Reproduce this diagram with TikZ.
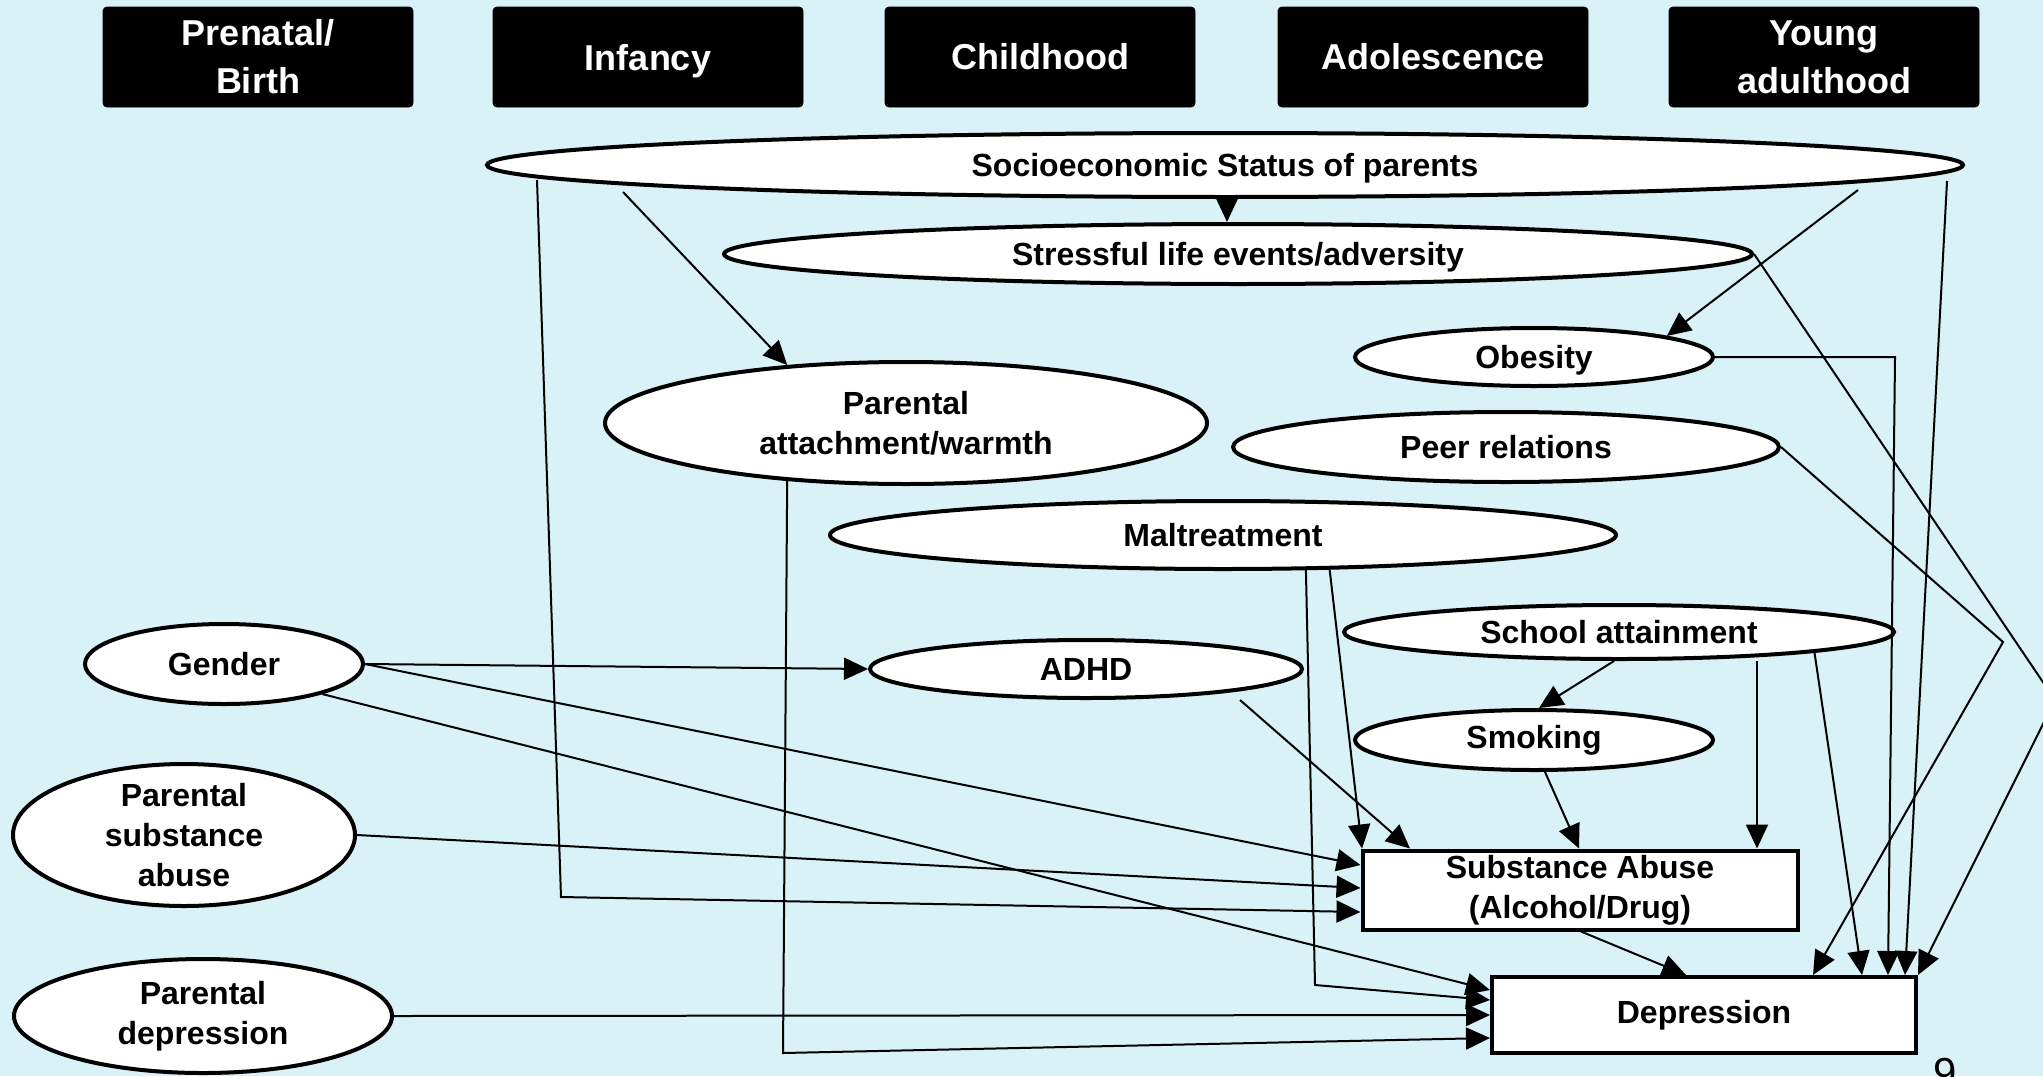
\documentclass[tikz,border=0pt]{standalone}
\usepackage{fontspec}
\setmainfont{Liberation Sans}
\usetikzlibrary{shapes.geometric,arrows.meta}
\definecolor{slidebg}{RGB}{217,242,247}
\newcommand{\bodytext}{\fontsize{16}{20}\selectfont\bfseries}
\newcommand{\headtext}{\fontsize{18}{24}\selectfont\bfseries}

\begin{document}
\begin{tikzpicture}[x=0.5pt,y=-0.5pt,
  stage/.style={fill=black, draw=black, text=white, rounded corners=2pt,
    minimum width=155pt, minimum height=50pt, inner sep=0pt, align=center, font=\headtext},
  oval/.style={ellipse, draw=black, line width=2pt, fill=white, inner sep=0pt,
    align=center, font=\bodytext},
  outcome/.style={rectangle, draw=black, line width=2pt, fill=white, inner sep=0pt,
    align=center, font=\bodytext},
  nodepth/.style={text depth=0pt},
  link/.style={line width=1pt, -{Triangle[length=12pt,width=11pt]}}
]
% slide background and frame
\fill[slidebg] (0,0) rectangle (2043,1076);
\useasboundingbox (0,0) rectangle (2043,1076);
\clip (0,0) rectangle (2043,1076);

% life stages
\node[stage] (h1) at (258,57)  {Prenatal/\\Birth};
\node[stage, nodepth] (h2) at (648,57)  {Infancy};
\node[stage] (h3) at (1040,57) {Childhood};
\node[stage] (h4) at (1433,57) {Adolescence};
\node[stage] (h5) at (1824,57) {Young\\adulthood};

% risk factors
\node[oval, nodepth, minimum width=738pt, minimum height=32pt] (ses)  at (1225,165) {Socioeconomic Status of parents};
\node[oval, nodepth, minimum width=514pt, minimum height=30pt] (sle)  at (1238,254) {Stressful life events/adversity};
\node[oval, nodepth, minimum width=179pt, minimum height=29pt] (obe)  at (1534,357) {Obesity};
\node[oval, minimum width=301pt, minimum height=61pt] (att)  at (906,423)  {Parental\\attachment/warmth};
\node[oval, minimum width=273pt, minimum height=35pt] (peer) at (1506,447) {Peer relations};
\node[oval, minimum width=393pt, minimum height=34pt] (malt) at (1223,535) {Maltreatment};
\node[oval, minimum width=139pt, minimum height=40pt] (gen)  at (224,664)  {Gender};
\node[oval, minimum width=216pt, minimum height=29pt] (adhd) at (1086,669) {ADHD};
\node[oval, minimum width=275pt, minimum height=27pt] (sch)  at (1619,632) {School attainment};
\node[oval, minimum width=179pt, minimum height=30pt] (smk)  at (1534,740) {Smoking};
\node[oval, minimum width=171pt, minimum height=71pt, inner ysep=-4pt] (psa) at (184,835) {Parental\\substance\\abuse};
\node[oval, minimum width=189pt, minimum height=57pt] (pdep) at (203,1016) {Parental\\depression};

% outcomes
\node[outcome, minimum width=217.5pt, minimum height=39.5pt] (sa)  at (1580,890)  {Substance Abuse\\(Alcohol/Drug)};
\node[outcome, minimum width=212pt, minimum height=38pt]     (dep) at (1704,1015) {Depression};

% bend points
\coordinate (sesL)  at (561,897);
\coordinate (attB)  at (783,1053);
\coordinate (maltB) at (1315,985);
\coordinate (sleR)  at (2055,700);
\coordinate (peerR) at (2003,642);

% pathways
\draw[link] (1227,0 |- ses.south) -- (1227,0 |- sle.north);
\draw[link] ([shift={(-602,27)}]ses.center) -- (att.154);
\draw[link] ([shift={(-688,15)}]ses.center) -- (sesL) -- (sa.west |- 0,912);
\draw[link] (att.206.4) -- (attB) -- (dep.west |- 0,1038);
\draw[link] ([shift={(722,16)}]ses.center) -- (1905,0 |- dep.north);
\draw[link] ([shift={(633,25)}]ses.center) -- (obe.9.4);
\draw[link] (sle.east) -- (sleR) -- (dep.north east);
\draw[link] (peer.east) -- (peerR) -- (1813,0 |- dep.north);
\draw[link] (obe.east) -- (obe.east -| 1895,0) -- (1888,0 |- dep.north);
\draw[link] (malt.342.4) -- (1362,0 |- sa.north);
\draw[link] (malt.337.5) -- (maltB) -- (dep.west |- 0,1000);
\draw[link] ([shift={(154,31)}]adhd.center) -- (1410,0 |- sa.north);
\draw[link] (1614,0 |- sch.south) -- (1539,0 |- smk.north);
\draw[link] (1757,0 |- sch.south) -- (1757,0 |- sa.north);
\draw[link] (sch.354) -- (1862,0 |- dep.north);
\draw[link] (1545,0 |- smk.south) -- (1579,0 |- sa.north);
\draw[link] (1581,0 |- sa.south) -- (1686,0 |- dep.north);
\draw[link] (gen.east) -- (adhd.west);
\draw[link] (gen.east) -- (sa.west |- 0,865);
\draw[link] (gen.343.8) -- (dep.west |- 0,990);
\draw[link] (psa.east) -- (sa.west |- 0,888);
\draw[link] (pdep.east) -- (dep.west |- 0,1015);

% slide number
\node[font=\fontsize{21}{24}\selectfont, anchor=base, inner sep=0pt] (pg) at (1945,1087) {9};
\end{tikzpicture}
\end{document}
